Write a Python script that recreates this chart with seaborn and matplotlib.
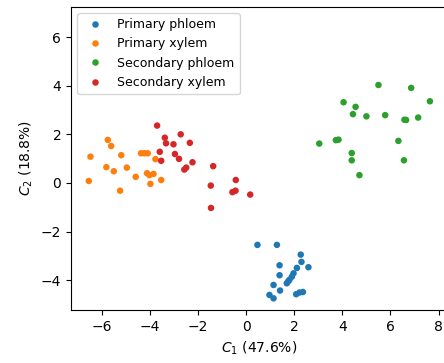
import pandas as pd
import matplotlib
matplotlib.use("Agg")
import matplotlib.pyplot as plt
import seaborn as sns

#data
primary_phloem_x = [0.47, 1.28, 2.27, 1.39, 2.11, 2.59, 1.39, 1.97, 1.90, 1.80, 1.69, 1.14, 1.41, 0.97, 1.14, 2.22, 2.36, 2.08, 1.75, 2.30]
primary_phloem_y = [-2.55, -2.55, -2.95, -3.39, -3.50, -3.47, -3.80, -3.72, -3.86, -3.99, -4.13, -4.20, -4.43, -4.61, -4.75, -4.51, -4.49, -4.58, -4.05, -3.25]

primary_xylem_x = [-6.47, -5.75, -5.61, -5.19, -5.81, -5.50, -4.96, -6.54, -5.24, -4.59, -4.37, -4.23, -4.09, -3.77, -4.12, -4.02, -3.85, -3.98, -3.53]
primary_xylem_y = [1.08, 1.77, 1.52, 1.14, 0.65, 0.48, 0.63, 0.08, -0.32, 0.25, 1.22, 1.22, 1.22, 0.98, 0.40, 0.32, 0.37, -0.04, 0.12]

secondary_phloem_x = [5.50, 6.86, 7.64, 4.05, 4.55, 4.44, 5.00, 5.78, 6.58, 6.65, 7.15, 3.04, 3.73, 3.84, 6.33, 4.39, 4.39, 6.56, 4.71]
secondary_phloem_y = [4.03, 3.91, 3.36, 3.32, 3.13, 2.83, 2.74, 2.79, 2.60, 2.59, 2.69, 1.62, 1.76, 1.78, 1.73, 1.23, 0.93, 0.93, 0.32]

secondary_xylem_x = [-3.70, -3.38, -3.33, -3.59, -3.53, -3.02, -2.72, -2.34, -2.96, -2.79, -2.23, -2.49, -2.57, -1.37, -1.47, -0.43, -0.44, -0.57, 0.17, -1.46]
secondary_xylem_y = [2.36, 1.86, 1.63, 1.28, 0.91, 1.59, 2.00, 1.65, 1.19, 0.99, 0.85, 0.63, 0.55, 0.69, -0.11, 0.12, -0.32, -0.38, -0.48, -1.03]

#build table
groups = [("Primary phloem", primary_phloem_x, primary_phloem_y),
          ("Primary xylem", primary_xylem_x, primary_xylem_y),
          ("Secondary phloem", secondary_phloem_x, secondary_phloem_y),
          ("Secondary xylem", secondary_xylem_x, secondary_xylem_y)]
rows = []
for name, xs, ys in groups:
	for x, y in zip(xs, ys):
		rows.append({"c1": x, "c2": y, "tissue": name})
df = pd.DataFrame(rows)

fig = plt.figure(figsize=(4.44, 3.63), dpi=100)
ax = fig.add_axes([71/444, 53/363, 376/444, 303/363])
sns.scatterplot(data=df, x="c1", y="c2", hue="tissue", palette="tab10", s=22, linewidth=0, ax=ax)
ax.set_xlim(-7.28, 8.35)
ax.set_ylim(-5.23, 7.24)
ax.set_xticks([-6, -4, -2, 0, 2, 4, 6, 8])
ax.set_yticks([-4, -2, 0, 2, 4, 6])
ax.set_xlabel(r"$C_1$ (47.6%)")
ax.set_ylabel(r"$C_2$ (18.8%)")
ax.legend(loc="upper left", title=None, fontsize=9)
plt.savefig("out.png", dpi=100)
